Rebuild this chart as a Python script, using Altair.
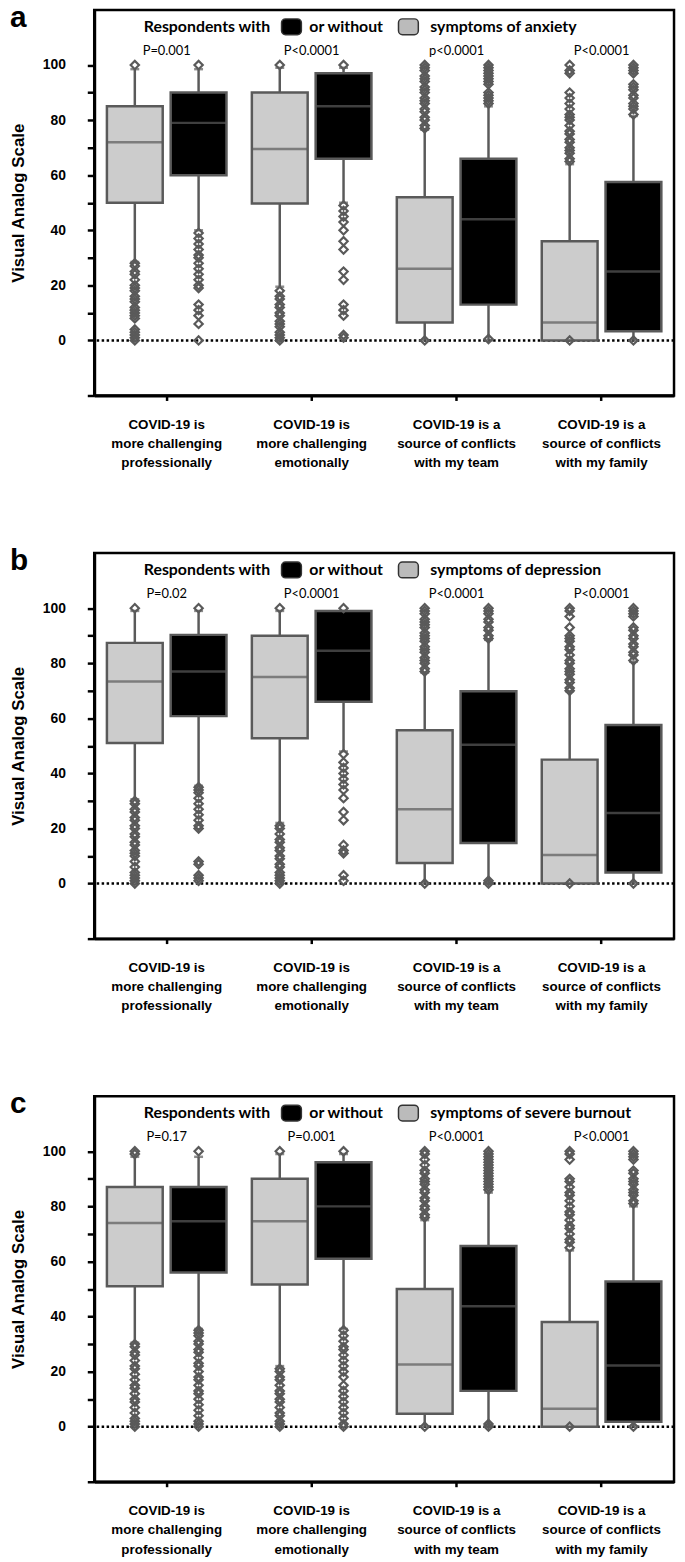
import altair as alt
import pandas as pd

CATEGORIES = [
    "COVID-19 is|more challenging|professionally",
    "COVID-19 is|more challenging|emotionally",
    "COVID-19 is a|source of conflicts|with my team",
    "COVID-19 is a|source of conflicts|with my family",
]
GROUPS = ["without", "with"]
GROUP_COLORS = ["#cccccc", "#000000"]
Y_TICKS = [-20, 0, 10, 20, 30, 40, 50, 60, 70, 80, 90, 100]
Y_LABELS = [0, 20, 40, 60, 80, 100]

# per category: (low whisker, q1, median, q3, high whisker)
A_WITHOUT = [(28.5, 50, 72, 85, 98.5), (19.5, 49.7, 69.5, 90, 99), (0, 6.5, 26, 52, 76.5), (0, 0, 6.5, 36, 64)]
A_WITH = [(40, 60, 79, 90, 98.5), (50, 66, 85, 97, 99), (0, 13, 44, 66, 85), (0, 3.3, 25, 57.5, 81.5)]
A_WITHOUT_OUT = [
    [28, 27, 25, 24, 22, 20, 19, 18, 16, 15, 14, 12, 11, 10, 9, 8, 4, 3, 2, 1, 0, 100],
    [18, 16, 15, 13, 12, 10, 9, 7, 6, 5, 3, 2, 1, 0, 100],
    [0, 77, 78, 80, 81, 83, 84, 86, 87, 88, 90, 91, 92, 94, 95, 96, 98, 99, 100],
    [0, 65, 66, 68, 69, 70, 72, 73, 75, 76, 78, 80, 81, 82, 84, 86, 88, 90, 97, 98, 100],
]
A_WITH_OUT = [
    [39, 37, 35, 33, 31, 30, 28, 26, 24, 22, 20, 19, 13, 11, 9, 6, 0, 100],
    [49, 47, 45, 43, 40, 36, 33, 25, 22, 13, 11, 9, 2, 1, 100],
    [0.5, 86, 87, 88, 89, 90, 93, 94, 95, 96, 97, 98, 99, 100],
    [0, 82, 84, 85, 86, 88, 89, 91, 92, 93, 97, 98, 99, 100],
]
A_P = ["P=0.001", "P<0.0001", "p<0.0001", "P<0.0001"]

B_WITHOUT = [(30.6, 51, 73.4, 87.4, 99), (22, 52.8, 75, 90, 99), (0, 7.5, 27, 55.7, 76.6), (0, 0, 10.4, 45, 69.8)]
B_WITH = [(35.5, 60.8, 77, 90.3, 99), (48, 66, 84.5, 99, 99), (0, 14.7, 50.4, 69.8, 88.5), (0, 4, 25.6, 57.6, 80.6)]
B_WITHOUT_OUT = [
    [30, 29, 27, 26, 24, 23, 21, 20, 18, 17, 15, 14, 12, 11, 10, 8, 6, 4, 3, 2, 1, 0, 100],
    [21, 20, 18, 16, 15, 13, 12, 10, 9, 7, 6, 4, 3, 2, 1, 0, 100],
    [0, 77, 78, 80, 81, 82, 84, 85, 86, 88, 89, 90, 91, 93, 94, 95, 96, 98, 99, 100],
    [0, 70, 71, 73, 74, 76, 77, 78, 80, 81, 83, 85, 86, 88, 89, 90, 93, 97, 99, 100],
]
B_WITH_OUT = [
    [35, 34, 33, 31, 29, 27, 25, 23, 21, 20, 8, 7, 3, 2, 1, 100],
    [47, 44, 42, 40, 38, 36, 34, 31, 26, 23, 14, 12, 11, 3, 1, 100],
    [0, 1, 89, 90, 92, 93, 95, 96, 98, 99, 100],
    [0, 81, 83, 84, 86, 87, 89, 90, 92, 93, 97, 98, 99, 100],
]
B_P = ["P=0.02", "P<0.0001", "P<0.0001", "P<0.0001"]

C_WITHOUT = [(30.5, 51, 74, 87, 98), (22, 51.6, 74.6, 90, 99), (0, 4.7, 22.6, 50, 75), (0, 0, 6.5, 38, 64)]
C_WITH = [(35.5, 56, 74.6, 87, 98), (35.5, 61, 80, 96, 99), (0, 13, 43.7, 65.6, 85), (0, 1.8, 22.2, 52.7, 80)]
C_WITHOUT_OUT = [
    [30, 29, 27, 26, 24, 22, 21, 19, 17, 15, 14, 12, 10, 9, 7, 5, 3, 2, 1, 0, 99, 100],
    [21, 20, 18, 17, 15, 13, 12, 10, 9, 7, 5, 4, 2, 1, 0, 100],
    [0, 76, 77, 79, 80, 82, 83, 85, 86, 88, 89, 90, 92, 93, 95, 97, 99, 100],
    [0, 65, 67, 68, 70, 72, 73, 75, 77, 78, 80, 82, 84, 85, 87, 89, 90, 97, 99, 100],
]
C_WITH_OUT = [
    [35, 34, 33, 31, 30, 28, 27, 25, 23, 22, 20, 18, 17, 15, 13, 12, 10, 8, 6, 4, 2, 1, 0, 100],
    [35, 33, 31, 29, 28, 26, 24, 22, 20, 18, 15, 13, 11, 9, 7, 5, 3, 1, 0, 100],
    [0, 1, 86, 87, 88, 89, 90, 91, 92, 93, 94, 95, 96, 97, 98, 99, 100],
    [0, 81, 82, 84, 85, 86, 88, 89, 90, 92, 93, 97, 98, 99, 100],
]
C_P = ["P=0.17", "P=0.001", "P<0.0001", "P<0.0001"]

CONDITIONS = ["symptoms of anxiety", "symptoms of depression", "symptoms of severe burnout"]
LETTERS = ["a", "b", "c"]

ARIAL = "Liberation Sans, Arial, sans-serif"
CAL = "Lato, Carlito, Calibri, sans-serif"
GRAY = "#5a5a5a"
W, H = 585, 389
YS = alt.Scale(domain=[-20, 120], nice=False, zero=False)

label_test = " || ".join(f"datum.value == {v}" for v in Y_LABELS)
y_axis = alt.Axis(
    values=Y_TICKS, labelExpr=f"({label_test}) ? datum.label : ''", grid=False,
    domainColor="black", domainWidth=3, tickColor="black", tickWidth=2.5, tickSize=7,
    labelFont=ARIAL, labelFontSize=14, labelFontWeight="bold", labelColor="black",
    labelPadding=22, title="Visual Analog Scale", titleFont=ARIAL, titleFontSize=17,
    titleFontWeight="bold", titleColor="black", titlePadding=15,
)
x_axis = alt.Axis(
    labelExpr="split(datum.label, '|')", labelAngle=0, grid=False, domainColor="black",
    domainWidth=3, tickColor="black", tickWidth=2.5, tickSize=5, labelFont=ARIAL,
    labelFontSize=13.5, labelFontWeight="bold", labelColor="black", labelPadding=17,
    labelLineHeight=19.5, title=None,
)


def X():
    return alt.X("cat:N", sort=CATEGORIES, scale=alt.Scale(paddingInner=0.12, paddingOuter=0.06), axis=x_axis)


def XO():
    return alt.XOffset("group:N", sort=GROUPS, scale=alt.Scale(paddingInner=0.125, paddingOuter=0.0625))


def Y(field):
    return alt.Y(field, type="quantitative", scale=YS, axis=y_axis)


def panel(letter, cond, pvals, s_without, s_with, o_without, o_with):
    rows, orows = [], []
    for g, stats, outs in (("without", s_without, o_without), ("with", s_with, o_with)):
        for c, (lo, q1, md, q3, hi), vals in zip(CATEGORIES, stats, outs):
            rows.append(dict(cat=c, group=g, low=lo, q1=q1, med=md, q3=q3, high=hi))
            for v in vals:
                orows.append(dict(cat=c, group=g, v=v))
    box = pd.DataFrame(rows)
    out = pd.DataFrame(orows)
    pdf = pd.DataFrame({"cat": CATEGORIES, "p": pvals})
    one = pd.DataFrame({"k": [0]})

    base = alt.Chart(box)
    zero = alt.Chart(pd.DataFrame({"z": [0]})).mark_rule(
        strokeDash=[2.5, 2.5], strokeWidth=2.5, color="black"
    ).encode(y=Y("z"))
    wlo = base.mark_rule(color=GRAY, strokeWidth=2.5).encode(x=X(), xOffset=XO(), y=Y("low"), y2="q1")
    whi = base.mark_rule(color=GRAY, strokeWidth=2.5).encode(x=X(), xOffset=XO(), y=Y("q3"), y2="high")
    caplo = base.mark_tick(color=GRAY, size=9, thickness=2.5, xOffset=4.5).encode(x=X(), xOffset=XO(), y=Y("low"))
    caphi = base.mark_tick(color=GRAY, size=9, thickness=2.5, xOffset=4.5).encode(x=X(), xOffset=XO(), y=Y("high"))
    bars = base.mark_bar(stroke=GRAY, strokeWidth=2.5).encode(
        x=X(), xOffset=XO(), y=Y("q1"), y2="q3",
        fill=alt.Fill("group:N", scale=alt.Scale(domain=GROUPS, range=GROUP_COLORS), legend=None),
    )
    med = base.mark_tick(color=GRAY, size=56, thickness=2.5).encode(x=X(), xOffset=XO(), y=Y("med"))
    pts = alt.Chart(out).mark_point(shape="diamond", filled=False, size=70, strokeWidth=2.2, color=GRAY, opacity=1).encode(
        x=X(), xOffset=XO(), y=Y("v")
    )
    ptxt = alt.Chart(pdf).mark_text(font=CAL, fontSize=13, color="black").encode(
        x=X(), y=alt.Y(datum=105, type="quantitative", scale=YS, axis=y_axis), text="p:N"
    )
    ax = 50
    ly = 17
    leg = []
    for txt, dx in (("Respondents with", 0), ("or without", 167), (cond, 289)):
        leg.append(alt.Chart(one).mark_text(text=txt, font=CAL, fontSize=16, fontWeight="bold", align="left",
                                            baseline="middle", color="black").encode(
            x=alt.value(ax + dx), y=alt.value(ly)))
    for col, dx in (("#000000", 139), ("#bbbbbb", 257)):
        leg.append(alt.Chart(one).mark_rect(fill=col, stroke="#333333", strokeWidth=1.5, cornerRadius=4).encode(
            x=alt.value(ax + dx), x2=alt.value(ax + dx + 20), y=alt.value(ly - 8), y2=alt.value(ly + 8)))
    let = alt.Chart(one).mark_text(text=letter, font=ARIAL, fontSize=30,
                                   fontWeight="bold", align="left", baseline="alphabetic", color="black").encode(
        x=alt.value(-85), y=alt.value(17))
    return alt.layer(zero, wlo, whi, caplo, caphi, bars, med, pts, ptxt, *leg, let).properties(width=W, height=H)


pa = panel(LETTERS[0], CONDITIONS[0], A_P, A_WITHOUT, A_WITH, A_WITHOUT_OUT, A_WITH_OUT)
pb = panel(LETTERS[1], CONDITIONS[1], B_P, B_WITHOUT, B_WITH, B_WITHOUT_OUT, B_WITH_OUT)
pc = panel(LETTERS[2], CONDITIONS[2], C_P, C_WITHOUT, C_WITH, C_WITHOUT_OUT, C_WITH_OUT)

chart = alt.vconcat(pa, pb, pc, spacing=74).properties(
    padding={"left": 0, "top": -14, "right": 0, "bottom": 0}
).configure_view(stroke="black", strokeWidth=2.5)

chart.save("out.html", embed_options={"renderer": "svg", "actions": False})
